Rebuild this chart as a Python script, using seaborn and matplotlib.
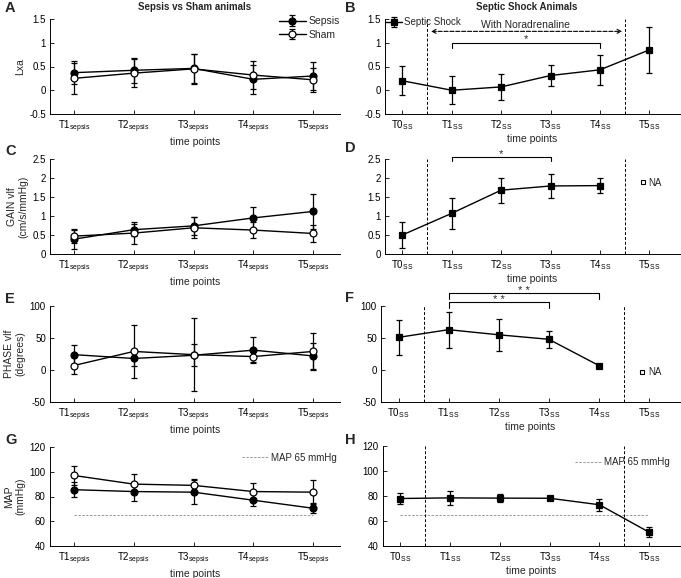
import numpy as np
import pandas as pd
import matplotlib
matplotlib.use("Agg")
import matplotlib.pyplot as plt
import seaborn as sns
from matplotlib.lines import Line2D
from matplotlib.legend_handler import HandlerTuple

# ---------------- data ----------------
sepsis_ticks = [r"T1$_{\mathrm{sepsis}}$", r"T2$_{\mathrm{sepsis}}$", r"T3$_{\mathrm{sepsis}}$",
                r"T4$_{\mathrm{sepsis}}$", r"T5$_{\mathrm{sepsis}}$"]
ss_ticks = [r"T0$_{\mathrm{SS}}$", r"T1$_{\mathrm{SS}}$", r"T2$_{\mathrm{SS}}$",
            r"T3$_{\mathrm{SS}}$", r"T4$_{\mathrm{SS}}$", r"T5$_{\mathrm{SS}}$"]
sepsis_pos = [1, 2, 3, 4, 5]
ss_pos = [0, 1, 2, 3, 4, 5]
ss_pos_na = [0, 1, 2, 3, 4]   # T5 not available for GAIN / PHASE

lxa_sepsis_mean = [0.37, 0.42, 0.46, 0.23, 0.30]
lxa_sepsis_sd = [0.24, 0.26, 0.31, 0.30, 0.29]
lxa_sham_mean = [0.25, 0.36, 0.45, 0.32, 0.22]
lxa_sham_sd = [0.32, 0.30, 0.31, 0.30, 0.25]
lxa_ss_mean = [0.20, 0.00, 0.07, 0.31, 0.43, 0.85]
lxa_ss_sd = [0.31, 0.29, 0.27, 0.23, 0.31, 0.48]

gain_sepsis_mean = [0.39, 0.64, 0.74, 0.95, 1.12]
gain_sepsis_sd = [0.25, 0.16, 0.23, 0.30, 0.47]
gain_sham_mean = [0.47, 0.55, 0.69, 0.63, 0.54]
gain_sham_sd = [0.19, 0.28, 0.28, 0.21, 0.23]
gain_ss_mean = [0.50, 1.07, 1.68, 1.79, 1.80]
gain_ss_sd = [0.35, 0.41, 0.33, 0.32, 0.20]

phase_sepsis_mean = [24, 18, 23, 31, 22]
phase_sepsis_sd = [15, 12, 17, 20, 20]
phase_sham_mean = [7, 29, 24, 21, 29]
phase_sham_sd = [13, 42, 57, 8, 29]
phase_ss_mean = [51, 63, 55, 48, 7]
phase_ss_sd = [27, 28, 25, 13, 1]

map_sepsis_mean = [85.5, 84, 83.5, 77, 70.5]
map_sepsis_sd = [6, 8, 9.5, 5, 4]
map_sham_mean = [97, 90, 89, 84, 83.5]
map_sham_sd = [8, 8, 5, 7, 9.5]
map_ss_mean = [78, 78.5, 78.3, 78.2, 73, 51]
map_ss_sd = [4.5, 5.5, 3.3, 1, 5, 4]
map_threshold = 65

# ---------------- style ----------------
sns.set_theme(style="ticks")
plt.rcParams["font.family"] = ["Liberation Sans", "DejaVu Sans"]
plt.rcParams["mathtext.fontset"] = "custom"
plt.rcParams["mathtext.rm"] = "Liberation Sans"
plt.rcParams["mathtext.it"] = "Liberation Sans:italic"
plt.rcParams["mathtext.bf"] = "Liberation Sans:bold"
plt.rcParams["axes.edgecolor"] = "black"
plt.rcParams["axes.linewidth"] = 0.7
plt.rcParams["xtick.color"] = "black"
plt.rcParams["ytick.color"] = "black"

W, H = 681, 578
fig = plt.figure(figsize=(W / 100, H / 100), dpi=100)


def add_ax(l, t, r, b):
    return fig.add_axes([l / W, 1 - b / H, (r - l) / W, (b - t) / H])


axA = add_ax(50, 19, 340, 114)
axB = add_ax(385, 19, 680, 114)
axC = add_ax(50, 159, 340, 254)
axD = add_ax(385, 159, 680, 254)
axE = add_ax(50, 306, 340, 402)
axF = add_ax(381, 306, 680, 402)
axG = add_ax(50, 447, 340, 546)
axH = add_ax(383, 446, 680, 546)


def series(ax, x, mean, sd, marker, mfc, ms):
    df = pd.DataFrame({"x": x, "y": mean})
    sns.lineplot(data=df, x="x", y="y", ax=ax, color="black", lw=1.0, marker=marker,
                 markersize=ms, markerfacecolor=mfc, markeredgecolor="black",
                 markeredgewidth=0.9, errorbar=None, legend=False, zorder=4)
    line = ax.lines[-1]
    eb = ax.errorbar(x, mean, yerr=sd, fmt="none", ecolor="black", elinewidth=0.9,
                     capsize=2.5, capthick=0.9, zorder=3)
    return (eb, line)


def style(ax, ss, ylim, yticks, ylabel=None):
    if ss:
        ax.set_xlim(-0.35, 5.62)
        ax.set_xticks(ss_pos)
        ax.set_xticklabels(ss_ticks)
    else:
        ax.set_xlim(0.6, 5.45)
        ax.set_xticks(sepsis_pos)
        ax.set_xticklabels(sepsis_ticks)
    ax.set_ylim(*ylim)
    ax.set_yticks(yticks)
    ax.set_yticklabels([("%g" % v) for v in yticks])
    ax.set_xlabel("time points", fontsize=7.5, labelpad=1.5)
    ax.set_ylabel(ylabel if ylabel else "", fontsize=7.5, labelpad=3)
    sns.despine(ax=ax)
    ax.tick_params(direction="in", length=3, width=0.6, labelsize=7, pad=3)


def bracket(ax, x1, x2, y, h, txt, ty):
    ax.plot([x1, x1, x2, x2], [y - h, y, y, y - h], color="black", lw=0.8, clip_on=False)
    ax.text((x1 + x2) / 2, ty, txt, ha="center", va="center", fontsize=8)


def vlines(ax):
    for xv in (0.5, 4.5):
        ax.axvline(xv, color="black", ls=(0, (3, 2)), lw=0.7, zorder=1)


def na_legend(ax, y):
    h = Line2D([], [], marker="s", ls="none", markerfacecolor="white",
               markeredgecolor="black", markersize=3.5, markeredgewidth=0.8)
    leg = ax.legend([h], ["NA"], loc="center left", bbox_to_anchor=(0.86, y), frameon=False,
                    fontsize=7, handlelength=0.8, handletextpad=0.2, borderpad=0,
                    borderaxespad=0)
    return leg


hmap = {tuple: HandlerTuple(ndivide=1)}

# ---- A ----
hs = series(axA, sepsis_pos, lxa_sepsis_mean, lxa_sepsis_sd, "o", "black", 5)
hh = series(axA, sepsis_pos, lxa_sham_mean, lxa_sham_sd, "o", "white", 5)
style(axA, False, (-0.5, 1.5), [-0.5, 0, 0.5, 1, 1.5], "Lxa")
axA.legend([hs, hh], ["Sepsis", "Sham"], handler_map=hmap, loc="upper right",
           bbox_to_anchor=(1.0, 1.03), frameon=False, fontsize=7.5, handlelength=2.5,
           handletextpad=0.3, labelspacing=0.35, borderpad=0, borderaxespad=0)

# ---- B ----
hb = series(axB, ss_pos, lxa_ss_mean, lxa_ss_sd, "s", "black", 4.5)
style(axB, True, (-0.5, 1.5), [-0.5, 0, 0.5, 1, 1.5])
vlines(axB)
axB.legend([hb], ["Septic Shock"], handler_map=hmap, loc="upper left",
           bbox_to_anchor=(0.0, 1.02), frameon=False, fontsize=7, handlelength=1.8,
           handletextpad=0.2, borderpad=0, borderaxespad=0)
axB.annotate("", xy=(4.45, 1.24), xytext=(0.58, 1.24),
             arrowprops=dict(arrowstyle="<->", ls="--", lw=0.8, color="black",
                             shrinkA=0, shrinkB=0, mutation_scale=7))
axB.text(2.5, 1.38, "With Noradrenaline", ha="center", va="center", fontsize=7.5)
bracket(axB, 1, 4, 1.0, 0.12, "*", 1.07)

# ---- C ----
series(axC, sepsis_pos, gain_sepsis_mean, gain_sepsis_sd, "o", "black", 5)
series(axC, sepsis_pos, gain_sham_mean, gain_sham_sd, "o", "white", 5)
style(axC, False, (0, 2.5), [0, 0.5, 1, 1.5, 2, 2.5], "GAIN vlf\n(cm/s/mmHg)")

# ---- D ----
series(axD, ss_pos_na, gain_ss_mean, gain_ss_sd, "s", "black", 4.5)
style(axD, True, (0, 2.5), [0, 0.5, 1, 1.5, 2, 2.5])
vlines(axD)
bracket(axD, 1, 3, 2.545, 0.11, "*", 2.63)
na_legend(axD, 0.75)

# ---- E ----
series(axE, sepsis_pos, phase_sepsis_mean, phase_sepsis_sd, "o", "black", 5)
series(axE, sepsis_pos, phase_sham_mean, phase_sham_sd, "o", "white", 5)
style(axE, False, (-50, 100), [-50, 0, 50, 100], "PHASE vlf\n(degrees)")

# ---- F ----
series(axF, ss_pos_na, phase_ss_mean, phase_ss_sd, "s", "black", 4.5)
style(axF, True, (-50, 100), [-50, 0, 50, 100])
vlines(axF)
bracket(axF, 1, 3, 106.7, 10, "* *", 109)
bracket(axF, 1, 4, 121, 10, "* *", 124)
na_legend(axF, 0.31)

# ---- G ----
series(axG, sepsis_pos, map_sepsis_mean, map_sepsis_sd, "o", "black", 5)
series(axG, sepsis_pos, map_sham_mean, map_sham_sd, "o", "white", 5)
axG.plot([sepsis_pos[0], sepsis_pos[-1]], [map_threshold] * 2, color="#9a9a9a",
         ls=(0, (2.5, 1.5)), lw=0.7, zorder=1)
style(axG, False, (40, 120), [40, 60, 80, 100, 120], "MAP\n(mmHg)")
mh = Line2D([], [], color="#9a9a9a", ls=(0, (2.5, 1.5)), lw=0.7)
axG.legend([mh], ["MAP 65 mmHg"], loc="center right", bbox_to_anchor=(0.99, 0.89),
           frameon=False, fontsize=7, handlelength=2.7, handletextpad=0.3, borderpad=0,
           borderaxespad=0)

# ---- H ----
series(axH, ss_pos, map_ss_mean, map_ss_sd, "s", "black", 4.5)
axH.plot([ss_pos[0], ss_pos[-1]], [map_threshold] * 2, color="#9a9a9a",
         ls=(0, (2.5, 1.5)), lw=0.7, zorder=1)
style(axH, True, (40, 120), [40, 60, 80, 100, 120])
vlines(axH)
axH.legend([mh], ["MAP 65 mmHg"], loc="center right", bbox_to_anchor=(0.965, 0.84),
           frameon=False, fontsize=7, handlelength=2.7, handletextpad=0.3, borderpad=0,
           borderaxespad=0)

# ---- titles and panel letters ----
fig.text(195 / W, 1 - 7 / H, "Sepsis vs Sham animals", ha="center", va="center",
         fontsize=7, fontweight="bold")
fig.text(527 / W, 1 - 7 / H, "Septic Shock Animals", ha="center", va="center",
         fontsize=7, fontweight="bold")
for letter, x, y in [("A", 5, 8), ("B", 345, 8), ("C", 5, 151), ("D", 345, 148),
                     ("E", 5, 299), ("F", 345, 298), ("G", 5, 440), ("H", 345, 440)]:
    fig.text(x / W, 1 - y / H, letter, ha="left", va="center", fontsize=10.5,
             fontweight="bold")

fig.savefig("out.png", dpi=100)
